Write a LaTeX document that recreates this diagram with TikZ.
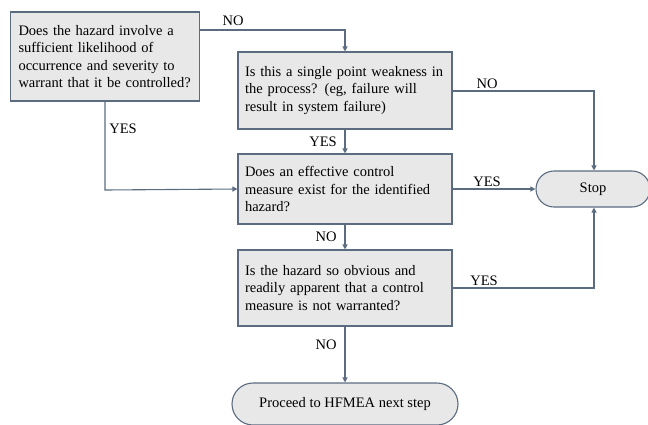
\documentclass[tikz,border=0pt]{standalone}
\usepackage{fontspec}
\setmainfont{Liberation Serif}
\usetikzlibrary{arrows.meta}
\definecolor{edge}{HTML}{5B6B80}
\definecolor{boxfill}{HTML}{E8E8E8}
\tikzset{
  qbox/.style={draw=edge, line width=1.1pt, fill=boxfill, rectangle, align=left,
    inner sep=0pt, font=\fontsize{14.5}{17.5}\selectfont},
  term/.style={draw=edge, line width=1.1pt, fill=boxfill, rounded corners=#1,
    inner sep=0pt, font=\fontsize{14.5}{17.5}\selectfont},
  lbl/.style={font=\fontsize{14.5}{17.5}\selectfont, inner sep=0pt},
  conn/.style={draw=edge, line width=1.1pt, -{Triangle[length=5pt,width=5pt]}},
}
\begin{document}
\begin{tikzpicture}[x=1pt,y=-1pt]
\useasboundingbox (0,0) rectangle (648,424);
\node[qbox, minimum width=189pt, minimum height=89pt, text width=173pt] (a) at (105,56.5)
  {\mbox{Does the hazard involve a}\\\mbox{sufficient likelihood of}\\\mbox{occurrence and severity to}\\\mbox{warrant that it be controlled?}};
\node[qbox, minimum width=214pt, minimum height=77pt, text width=200pt] (b) at (345,90.5)
  {\mbox{Is this a single point weakness in}\\\mbox{the process? (eg, failure will}\\\mbox{result in system failure)}};
\node[qbox, minimum width=214pt, minimum height=70pt, text width=200pt] (c) at (345,189)
  {\mbox{Does an effective control}\\\mbox{measure exist for the identified}\\\mbox{hazard?}};
\node[qbox, minimum width=214pt, minimum height=76pt, text width=200pt] (d) at (345,288)
  {\mbox{Is the hazard so obvious and}\\\mbox{readily apparent that a control}\\\mbox{measure is not warranted?}};
\node[term=18pt, minimum width=114pt, minimum height=36pt] (stop) at (593,189) {Stop};
\node[term=21pt, minimum width=226pt, minimum height=42pt] (proc) at (345,404) {Proceed to HFMEA next step};

\coordinate (a1) at (345,30);
\coordinate (a2) at (105,190);
\coordinate (b1) at (594,91);
\coordinate (d1) at (594,288);

\draw[conn] (a.east |- a1) -- (a1) -- (b.north);
\draw[conn] (a.south) -- (a2) -- (c.west);
\draw[conn] (b.south) -- (c.north);
\draw[conn] (b.east |- b1) -- (b1) -- (b1 |- stop.north);
\draw[conn] (c.east) -- (stop.west);
\draw[conn] (c.south) -- (d.north);
\draw[conn] (d.east) -- (d1) -- (d1 |- stop.south);
\draw[conn] (d.south) -- (proc.north);

\node[lbl] (l1) at (233,21) {NO};
\node[lbl] (l2) at (123,129) {YES};
\node[lbl] (l3) at (323,142) {YES};
\node[lbl] (l4) at (487,84) {NO};
\node[lbl] (l5) at (487,182) {YES};
\node[lbl] (l6) at (326,237) {NO};
\node[lbl] (l7) at (484,281) {YES};
\node[lbl] (l8) at (326,345) {NO};
\end{tikzpicture}
\end{document}
